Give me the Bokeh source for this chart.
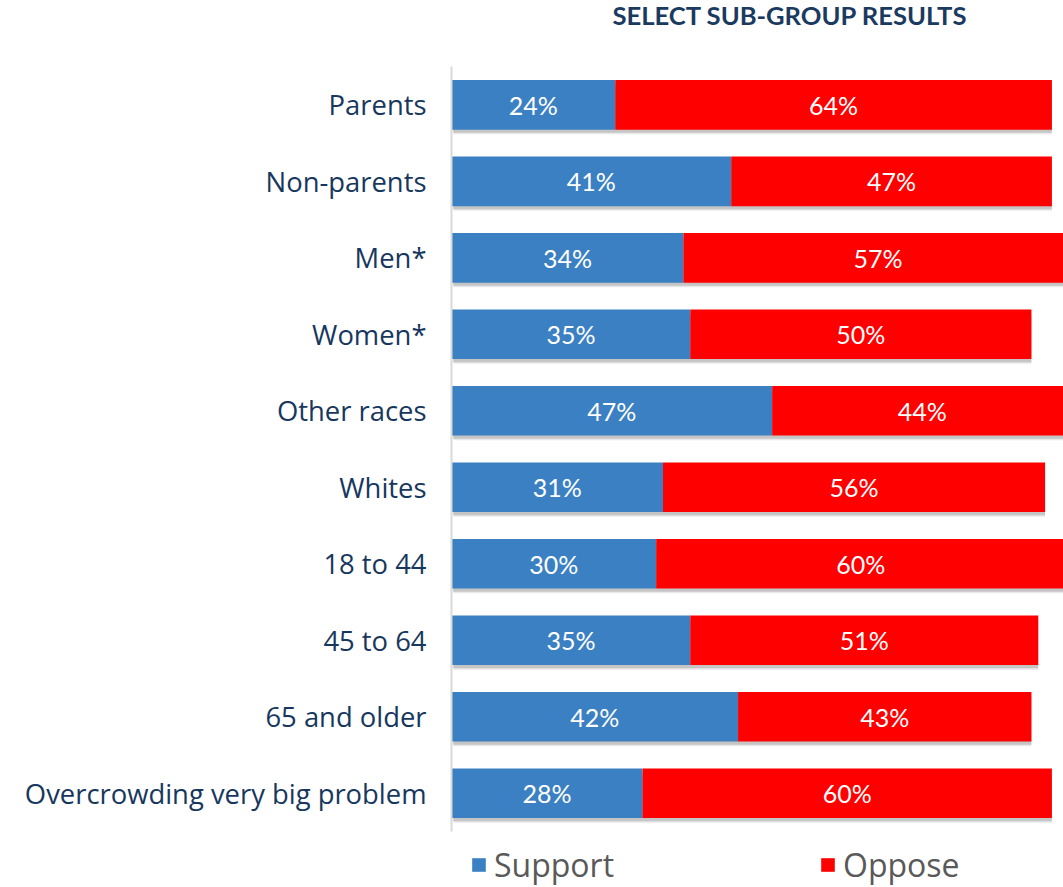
from bokeh.plotting import figure
from bokeh.models import (ColumnDataSource, Range1d, Legend, LegendItem, Label,
                          FixedTicker)
from bokeh.transform import dodge
from bokeh.embed import file_html
from bokeh.resources import INLINE
from bokeh.core.properties import value

categories = ["Parents", "Non-parents", "Men*", "Women*", "Other races", "Whites",
              "18 to 44", "45 to 64", "65 and older", "Overcrowding very big problem"]
support = [24, 41, 34, 35, 47, 31, 30, 35, 42, 28]
oppose = [64, 47, 57, 50, 44, 56, 60, 51, 43, 60]

BLUE = "#3a80c3"
RED = "#ff0000"
NAVY = "#17375e"

n = len(categories)
ypos = [n - 1 - i for i in range(n)]  # first category at the top

src = ColumnDataSource(dict(
    y=ypos,
    cat=categories,
    support=support,
    oppose=oppose,
    total=[s + o for s, o in zip(support, oppose)],
    s_mid=[s / 2 for s in support],
    o_mid=[s + o / 2 for s, o in zip(support, oppose)],
    s_lab=[f"{s}%" for s in support],
    o_lab=[f"{o}%" for o in oppose],
))

W, H = 1063, 887
p = figure(width=W, height=H,
           x_range=Range1d(0, 89.7), y_range=Range1d(-1.232, 10.363),
           output_backend="svg", toolbar_location=None,
           min_border_left=451, min_border_right=0, min_border_top=0, min_border_bottom=0)
p.outline_line_color = None
p.background_fill_color = "white"
p.border_fill_color = "white"

# soft shadows
p.hbar(y=dodge("y", -0.075), left=0.3, right="total", height=0.62,
       source=src, fill_color="#000000", fill_alpha=0.09, line_color=None)
p.hbar(y=dodge("y", -0.045), left=0.2, right="total", height=0.64,
       source=src, fill_color="#000000", fill_alpha=0.15, line_color=None)

r_s = p.hbar(y="y", left=0, right="support", height=0.65, source=src,
             fill_color=BLUE, line_color=None)
r_o = p.hbar(y="y", left="support", right="total", height=0.65, source=src,
             fill_color=RED, line_color=None)

p.text(x="s_mid", y="y", text="s_lab", source=src, text_align="center",
       text_baseline="middle", text_color="white", text_font=value("Lato"),
       text_font_size="25px")
p.text(x="o_mid", y="y", text="o_lab", source=src, text_align="center",
       text_baseline="middle", text_color="white", text_font=value("Lato"),
       text_font_size="25px")

p.xaxis.visible = False
p.xgrid.visible = False
p.ygrid.visible = False
yax = p.yaxis[0]
yax.ticker = FixedTicker(ticks=ypos)
yax.major_label_overrides = {y: c for y, c in zip(ypos, categories)}
yax.bounds = (-0.5, n - 0.5)
yax.major_tick_line_color = None
yax.minor_tick_line_color = None
yax.axis_line_color = "#d9d9d9"
yax.axis_line_width = 2
yax.major_label_text_font = "Open Sans"
yax.major_label_text_font_size = "27.4px"
yax.major_label_text_color = NAVY
yax.major_label_standoff = 19

title = Label(x=161, y=H + 1, x_units="screen", y_units="screen",
              text="SELECT SUB-GROUP RESULTS", text_font="Lato",
              text_font_size="25.6px", text_font_style="bold",
              text_color="#1b3a60", text_baseline="top", text_align="left")
p.add_layout(title)

legend = Legend(items=[LegendItem(label="Support", renderers=[r_s]),
                       LegendItem(label="Oppose", renderers=[r_o])],
                orientation="horizontal", location=(19, 1),
                label_text_font="Open Sans", label_text_font_size="32px",
                label_text_color="#595959", glyph_width=17, glyph_height=17,
                spacing=205, label_standoff=7, padding=0, margin=0,
                border_line_color=None, background_fill_alpha=0)
p.add_layout(legend, "center")

open("out.html", "w").write(file_html(p, INLINE))
